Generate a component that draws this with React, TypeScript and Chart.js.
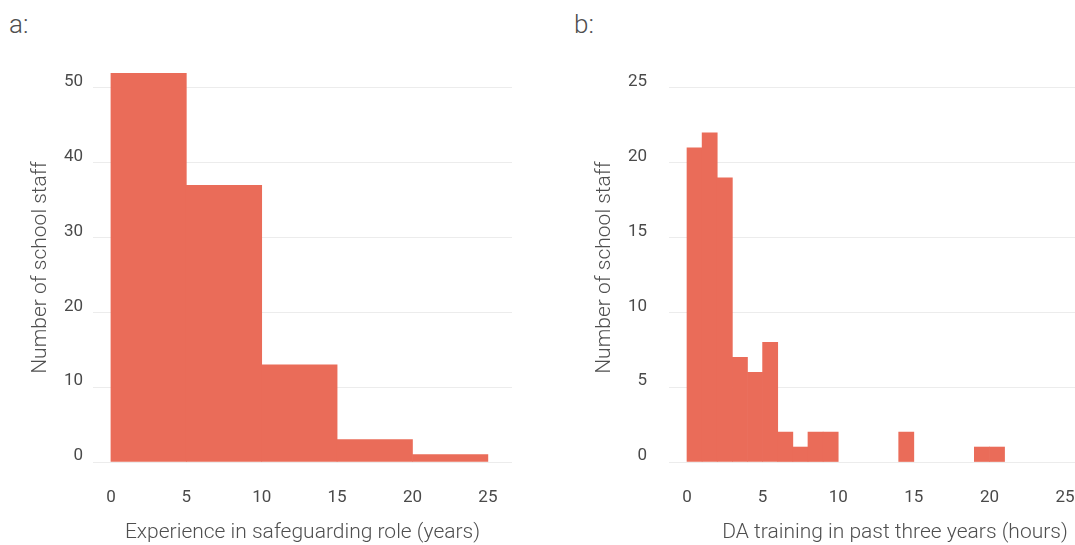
import React, { useEffect, useRef } from "react";
import { Chart, registerables } from "chart.js";

Chart.register(...registerables);

// ---- Data ----
const expBinStarts = [0, 5, 10, 15, 20];
const expBinWidth = 5;
const expCounts = [52, 37, 13, 3, 1];

const trainBinStarts = [0, 1, 2, 3, 4, 5, 6, 7, 8, 9, 10, 11, 12, 13, 14, 15, 16, 17, 18, 19, 20];
const trainBinWidth = 1;
const trainCounts = [21, 22, 19, 7, 6, 8, 2, 1, 2, 2, 0, 0, 0, 0, 2, 0, 0, 0, 0, 1, 1];

const xTickValues = [0, 5, 10, 15, 20, 25];
const expYTicks = [0, 10, 20, 30, 40, 50];
const trainYTicks = [0, 5, 10, 15, 20, 25];

const yTitle = "Number of school staff";
const expXTitle = "Experience in safeguarding role (years)";
const trainXTitle = "DA training in past three years (hours)";

// ---- Styles ----
const BAR = "#EA6C59";
const GRID = "#ececec";
const TICK = "#4a4a4a";
const TITLE = "#4f4f4f";
const FONT = "Roboto, 'Noto Sans', sans-serif";

type PanelProps = {
  starts: number[];
  width: number;
  counts: number[];
  yTicks: number[];
  yMax: number;
  xMin: number;
  xMax: number;
  xTitle: string;
  canvasWidth: number;
  padRight: number;
  yAxisWidth: number;
  yTitlePad: number;
  yTickPad: number;
};

function Panel(p: PanelProps) {
  const ref = useRef<HTMLCanvasElement | null>(null);
  useEffect(() => {
    if (!ref.current) return;
    const chart = new Chart(ref.current, {
      type: "bar",
      data: {
        datasets: [
          {
            data: p.starts.map((s, i) => ({ x: s + p.width / 2, y: p.counts[i] })),
            backgroundColor: (ctx: any) =>
              ctx.raw && ctx.raw.y > 0 ? BAR : "rgba(0,0,0,0)",
            borderWidth: 0,
            barPercentage: 1,
            categoryPercentage: 1,
          } as any,
        ],
      },
      options: {
        animation: false,
        responsive: false,
        maintainAspectRatio: false,
        events: [],
        layout: { padding: { top: 73, left: 0, right: p.padRight, bottom: 0 } },
        plugins: {
          legend: { display: false },
          tooltip: { enabled: false },
          title: { display: false },
        },
        scales: {
          x: {
            type: "linear",
            min: p.xMin,
            max: p.xMax,
            offset: false,
            grid: { display: false, drawTicks: false },
            border: { display: false },
            afterBuildTicks: (s: any) => {
              s.ticks = xTickValues.map((v) => ({ value: v }));
            },
            ticks: {
              font: { family: FONT, size: 17 },
              color: TICK,
              padding: 26,
              maxRotation: 0,
              autoSkip: false,
            },
            title: {
              display: true,
              text: p.xTitle,
              font: { family: FONT, size: 21, weight: "300" },
              color: TITLE,
              padding: { top: 0, bottom: 0 },
            },
            afterFit: (s: any) => {
              s.height = 83;
            },
          },
          y: {
            type: "linear",
            min: 0,
            max: p.yMax,
            grid: { color: GRID, drawTicks: false, lineWidth: 1 },
            border: { display: false },
            afterBuildTicks: (s: any) => {
              s.ticks = p.yTicks.map((v) => ({ value: v }));
            },
            ticks: {
              font: { family: FONT, size: 17 },
              color: TICK,
              padding: p.yTickPad,
              labelOffset: -6,
            },
            title: {
              display: true,
              text: yTitle,
              font: { family: FONT, size: 21, weight: "300" },
              color: TITLE,
              padding: { top: p.yTitlePad, bottom: 0 },
            },
            afterFit: (s: any) => {
              s.width = p.yAxisWidth;
            },
          },
        },
      } as any,
    });
    return () => chart.destroy();
  }, []);
  return (
    <canvas
      ref={ref}
      width={p.canvasWidth}
      height={545}
      style={{ display: "block", width: p.canvasWidth, height: 545 }}
    />
  );
}

const labelStyle: React.CSSProperties = {
  position: "absolute",
  top: 11,
  fontFamily: FONT,
  fontSize: 26,
  lineHeight: "26px",
  fontWeight: 300,
  color: TITLE,
};

export default function App() {
  return (
    <div
      style={{
        position: "absolute",
        left: 0,
        top: 0,
        width: 1075,
        height: 545,
        overflow: "hidden",
        background: "#ffffff",
      }}
    >
      <div style={{ ...labelStyle, left: 9 }}>a:</div>
      <div style={{ ...labelStyle, left: 574 }}>b:</div>
      <div style={{ position: "absolute", left: 0, top: 0 }}>
        <Panel
          starts={expBinStarts}
          width={expBinWidth}
          counts={expCounts}
          yTicks={expYTicks}
          yMax={52}
          xMin={-1.19}
          xMax={26.6}
          xTitle={expXTitle}
          canvasWidth={537}
          padRight={25}
          yAxisWidth={93}
          yTitlePad={28}
          yTickPad={10}
        />
      </div>
      <div style={{ position: "absolute", left: 560, top: 0 }}>
        <Panel
          starts={trainBinStarts}
          width={trainBinWidth}
          counts={trainCounts}
          yTicks={trainYTicks}
          yMax={26}
          xMin={-1.19}
          xMax={28.7}
          xTitle={trainXTitle}
          canvasWidth={566}
          padRight={5}
          yAxisWidth={109}
          yTitlePad={32}
          yTickPad={22}
        />
      </div>
    </div>
  );
}
